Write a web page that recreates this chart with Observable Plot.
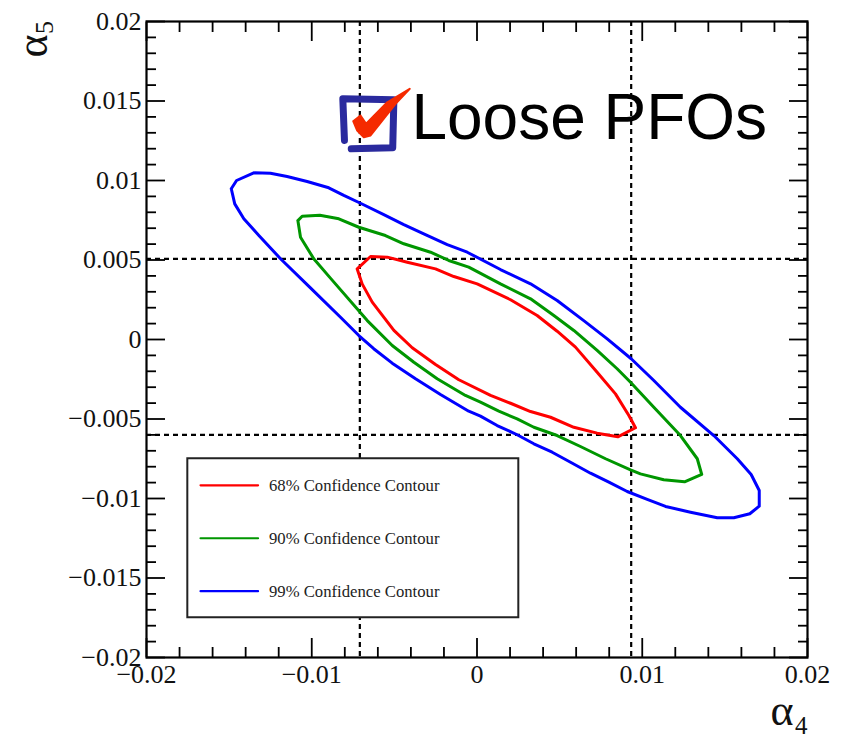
<!DOCTYPE html>
<html>
<head>
<meta charset="utf-8">
<script src="https://cdn.jsdelivr.net/npm/d3@7"></script>
<script src="https://cdn.jsdelivr.net/npm/@observablehq/plot@0.6"></script>
<style>
html,body{margin:0;padding:0;background:#fff;}
svg{display:block;}
</style>
</head>
<body>
<div id="chart"></div>
<script>
const redX=[-0.00725,-0.00644,-0.00543,-0.00422,-0.00251,-0.00140,0.00001,0.00203,0.00364,0.00485,0.00596,0.00727,0.00838,0.00919,0.00959,0.00852,0.00727,0.00586,0.00445,0.00324,0.00203,0.00082,-0.00110,-0.00251,-0.00392,-0.00503,-0.00634,-0.00695,-0.00725];
const redY=[0.00444,0.00522,0.00518,0.00486,0.00444,0.00396,0.00350,0.00250,0.00151,0.00052,-0.00048,-0.00206,-0.00342,-0.00478,-0.00555,-0.00612,-0.00589,-0.00552,-0.00489,-0.00453,-0.00401,-0.00352,-0.00253,-0.00157,-0.00052,0.00057,0.00235,0.00350,0.00444];

const greenX=[-0.01084,-0.01058,-0.00951,-0.00836,-0.00715,-0.00554,-0.00443,-0.00281,-0.00171,-0.00050,0.00142,0.00324,0.00465,0.00586,0.00727,0.00848,0.00929,0.01070,0.01231,0.01333,0.01360,0.01256,0.01130,0.00989,0.00929,0.00778,0.00626,0.00485,0.00344,0.00243,0.00132,0.00021,-0.00070,-0.00241,-0.00382,-0.00513,-0.00664,-0.00887,-0.00988,-0.01068,-0.01084];
const greenY=[0.00748,0.00775,0.00782,0.00759,0.00706,0.00654,0.00602,0.00549,0.00497,0.00455,0.00350,0.00256,0.00151,0.00057,-0.00069,-0.00184,-0.00269,-0.00426,-0.00604,-0.00750,-0.00849,-0.00895,-0.00882,-0.00845,-0.00820,-0.00750,-0.00673,-0.00604,-0.00552,-0.00499,-0.00451,-0.00394,-0.00352,-0.00247,-0.00143,-0.00038,0.00119,0.00386,0.00508,0.00643,0.00748];

const blueX=[-0.01487,-0.01455,-0.01351,-0.01250,-0.01149,-0.01028,-0.00897,-0.00806,-0.00705,-0.00564,-0.00443,-0.00322,-0.00180,-0.00059,0.00142,0.00324,0.00485,0.00646,0.00788,0.00933,0.01070,0.01231,0.01433,0.01575,0.01659,0.01708,0.01708,0.01651,0.01554,0.01454,0.01292,0.01141,0.01030,0.00909,0.00798,0.00687,0.00566,0.00455,0.00344,0.00243,0.00122,0.00021,-0.00050,-0.00221,-0.00372,-0.00513,-0.00625,-0.00715,-0.00826,-0.01008,-0.01189,-0.01320,-0.01411,-0.01466,-0.01487];
const blueY=[0.00948,0.01000,0.01048,0.01046,0.01025,0.00994,0.00954,0.00906,0.00857,0.00786,0.00723,0.00665,0.00597,0.00549,0.00440,0.00350,0.00245,0.00119,0.00004,-0.00121,-0.00258,-0.00426,-0.00604,-0.00750,-0.00849,-0.00950,-0.01048,-0.01096,-0.01121,-0.01121,-0.01086,-0.01050,-0.01006,-0.00956,-0.00897,-0.00841,-0.00772,-0.00709,-0.00656,-0.00599,-0.00541,-0.00482,-0.00451,-0.00346,-0.00247,-0.00149,-0.00058,0.00025,0.00140,0.00325,0.00508,0.00654,0.00759,0.00853,0.00948];

const limitsX=[-0.00709,0.00933];
const limitsY=[0.00507,-0.00600];

const xMajor=[-0.02,-0.01,0,0.01,0.02];
const xLabels=["\u22120.02","\u22120.01","0","0.01","0.02"];
const xMinor=[-0.018,-0.016,-0.014,-0.012,-0.008,-0.006,-0.004,-0.002,0.002,0.004,0.006,0.008,0.012,0.014,0.016,0.018];
const yMajor=[-0.02,-0.015,-0.01,-0.005,0,0.005,0.01,0.015,0.02];
const yLabels=["\u22120.02","\u22120.015","\u22120.01","\u22120.005","0","0.005","0.01","0.015","0.02"];
const yMinor=[-0.019,-0.018,-0.017,-0.016,-0.014,-0.013,-0.012,-0.011,-0.009,-0.008,-0.007,-0.006,-0.004,-0.003,-0.002,-0.001,0.001,0.002,0.003,0.004,0.006,0.007,0.008,0.009,0.011,0.012,0.013,0.014,0.016,0.017,0.018,0.019];

const legendLabels=["68% Confidence Contour","90% Confidence Contour","99% Confidence Contour"];
const legendColors=["#ff0000","#009600","#0000ff"];
const legendRows=[-0.00917,-0.0125,-0.01583];
const legendBoxX=[-0.0175,0.00253];
const legendBoxY=[-0.0175,-0.0075];
const legendLineX=[-0.01673,-0.01325];
const legendTextX=-0.01259;

const boxX=[-0.00802,-0.00812,-0.00503,-0.00510,-0.00761];
const boxY=[0.01252,0.01514,0.01508,0.01206,0.01199];
const checkX=[-0.00749,-0.00705,-0.00671,-0.00543,-0.00407,-0.00493,-0.00644,-0.00685,-0.00725,-0.00749];
const checkY=[0.01373,0.01409,0.01357,0.01492,0.01577,0.01482,0.01283,0.01272,0.01314,0.01373];
const tagX=-0.00397, tagY=0.01388;
const tag="Loose PFOs";

const pts=(xs,ys)=>xs.map((x,i)=>({x,y:ys[i]}));
const serif="'Liberation Serif',serif";
const lab=(t,l)=>d=>l[t.indexOf(d)];

const contour=(xs,ys,c)=>Plot.line(pts(xs,ys),{x:"x",y:"y",stroke:c,strokeWidth:3,curve:"linear",strokeLinejoin:"round"});
const xTicks=(v,a,s)=>Plot.axisX(v,{anchor:a,tickSize:-s,fill:"none",label:null,strokeWidth:1.8,stroke:"#000"});
const yTicks=(v,a,s)=>Plot.axisY(v,{anchor:a,tickSize:-s,fill:"none",label:null,strokeWidth:1.8,stroke:"#000"});

const fig=Plot.plot({
  width:847,height:737,
  marginLeft:146,marginRight:40,marginTop:21,marginBottom:80,
  style:{background:"#fff",fontFamily:serif,overflow:"visible"},
  x:{domain:[-0.02,0.02]},
  y:{domain:[-0.02,0.02]},
  marks:[
    Plot.ruleX(limitsX,{stroke:"#000",strokeWidth:2.2,strokeDasharray:"5 4"}),
    Plot.ruleY(limitsY,{stroke:"#000",strokeWidth:2.2,strokeDasharray:"5 4"}),
    contour(blueX,blueY,"#0000ff"),
    contour(greenX,greenY,"#009600"),
    contour(redX,redY,"#ff0000"),
    Plot.rect([0],{x1:()=>legendBoxX[0],x2:()=>legendBoxX[1],y1:()=>legendBoxY[0],y2:()=>legendBoxY[1],fill:"#fff",stroke:"#222",strokeWidth:2}),
    ...legendRows.map((r,i)=>Plot.line(legendLineX.map(x=>({x,y:r})),{x:"x",y:"y",stroke:legendColors[i],strokeWidth:2.2})),
    Plot.text(legendLabels,{x:()=>legendTextX,y:(d,i)=>legendRows[i],text:d=>d,textAnchor:"start",fontSize:16.7,fill:"#222",fontFamily:serif}),
    Plot.line(pts(boxX,boxY),{x:"x",y:"y",stroke:"#2a2a9e",strokeWidth:7,strokeLinecap:"round",strokeLinejoin:"round"}),
    Plot.line(pts(checkX,checkY),{x:"x",y:"y",fill:"#f52a00",stroke:"#f52a00",strokeWidth:2,strokeLinejoin:"round"}),
    Plot.text([tag],{x:()=>tagX,y:()=>tagY,text:d=>d,textAnchor:"start",fontSize:64,fill:"#000",fontFamily:"'Liberation Sans',sans-serif"}),
    Plot.frame({stroke:"#000",strokeWidth:2.2}),
    xTicks(xMajor,"bottom",19),xTicks(xMinor,"bottom",10),xTicks(xMajor,"top",19),xTicks(xMinor,"top",10),
    yTicks(yMajor,"left",19),yTicks(yMinor,"left",10),yTicks(yMajor,"right",19),yTicks(yMinor,"right",10),
    Plot.axisX(xMajor,{anchor:"bottom",tickSize:0,tickPadding:7,label:null,tickFormat:lab(xMajor,xLabels),fontSize:26,fill:"#111",fontFamily:serif}),
    Plot.axisY(yMajor,{anchor:"left",tickSize:0,tickPadding:5,label:null,tickFormat:lab(yMajor,yLabels),fontSize:26,fill:"#111",fontFamily:serif}),
    Plot.text(["\u03b1"],{frameAnchor:"bottom-right",dx:-14,dy:67,text:d=>d,fontSize:44,textAnchor:"end",fontFamily:serif,fill:"#111"}),
    Plot.text(["4"],{frameAnchor:"bottom-right",dx:0,dy:76,text:d=>d,fontSize:25,textAnchor:"end",fontFamily:serif,fill:"#111"}),
    Plot.text(["\u03b1"],{frameAnchor:"top-left",dx:-131,dy:13,text:d=>d,fontSize:44,rotate:-90,textAnchor:"end",fontFamily:serif,fill:"#111"}),
    Plot.text(["5"],{frameAnchor:"top-left",dx:-112,dy:6,text:d=>d,fontSize:26,rotate:-90,textAnchor:"middle",fontFamily:serif,fill:"#111"})
  ]
});
document.getElementById("chart").appendChild(fig);
</script>
</body>
</html>
